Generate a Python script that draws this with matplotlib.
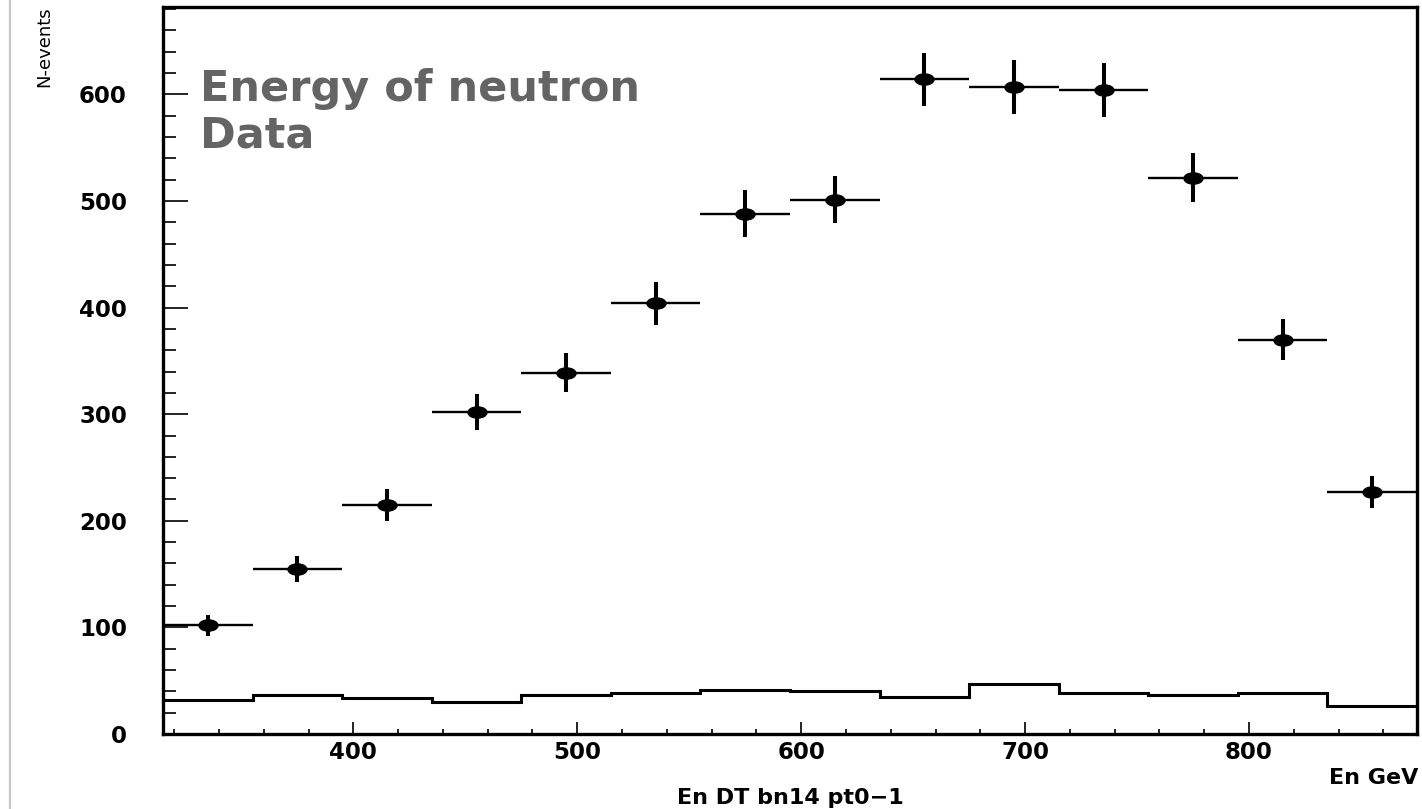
import numpy as np
import matplotlib
matplotlib.use("Agg")
import matplotlib.pyplot as plt
from matplotlib.path import Path
from matplotlib.lines import Line2D
from matplotlib.ticker import MultipleLocator

# Histogram binning (GeV)
bin_edges = [315, 355, 395, 435, 475, 515, 555, 595, 635, 675, 715, 755, 795, 835, 875]

# Data points: counts and their errors
data_counts = [102, 155, 215, 302, 339, 404, 488, 501, 614, 607, 604, 522, 370, 227]
data_errors = [10, 12, 15, 17, 18, 20, 22, 22, 25, 25, 25, 23, 19, 15]

# Lower histogram (background-like line)
bkg_counts = [32, 37, 33.5, 30, 37, 38, 41, 40.5, 34.5, 47, 38, 36.5, 38.5, 26]

TITLE_LINES = ["Energy of neutron", "Data"]
YLABEL = "N-events"
XLABEL_UNIT = "En GeV"
XLABEL_NAME = "En DT bn14 pt0\u22121"

W, H = 1422, 809


def ellipse_marker(stretch):
    # wide dot, the original picture is stretched horizontally
    circ = Path.unit_circle()
    verts = circ.vertices * np.array([stretch, 1.0])
    return Path(verts, circ.codes)


def fig_xy(px, py):
    # pixel position (from top-left) -> figure fraction
    return px / W, 1 - py / H


def plot_data():
    fig = plt.figure(figsize=(W / 100, H / 100), dpi=100)
    ax = fig.add_axes([163 / W, 75 / H, (1417 - 163) / W, (734 - 7) / H])

    edges = np.array(bin_edges)
    centers = 0.5 * (edges[:-1] + edges[1:])
    half = 0.5 * (edges[1:] - edges[:-1])

    # lower histogram
    ax.stairs(bkg_counts, edges, color="black", linewidth=2.2, baseline=None)

    # data with error crosses
    ax.errorbar(centers, data_counts, xerr=half, fmt="none", ecolor="black",
                elinewidth=1.7, capsize=0)
    ax.errorbar(centers, data_counts, yerr=data_errors, fmt="none", ecolor="black",
                elinewidth=2.9, capsize=0)
    ax.plot(centers, data_counts, linestyle="none", marker=ellipse_marker(1.7),
            markersize=13.7, color="black")

    ax.set_xlim(edges[0], edges[-1])
    ax.set_ylim(0, 682)

    ax.xaxis.set_major_locator(MultipleLocator(100))
    ax.xaxis.set_minor_locator(MultipleLocator(20))
    ax.yaxis.set_major_locator(MultipleLocator(100))
    ax.yaxis.set_minor_locator(MultipleLocator(20))

    ax.tick_params(axis="x", which="major", direction="in", length=8.6, width=1.2,
                   pad=5, labelsize=16.5)
    ax.tick_params(axis="x", which="minor", direction="in", length=3.6, width=1.2)
    ax.tick_params(axis="y", which="major", direction="in", length=18, width=1.2,
                   pad=26, labelsize=16.5)
    ax.tick_params(axis="y", which="minor", direction="in", length=9.5, width=1.2)
    for lbl in ax.get_xticklabels() + ax.get_yticklabels():
        lbl.set_fontweight("bold")
    for spine in ax.spines.values():
        spine.set_linewidth(2.4)

    # title text inside the frame
    fig.text(*fig_xy(200, 101), TITLE_LINES[0], fontsize=31, fontweight="bold",
             color="#646464", ha="left", va="baseline")
    fig.text(*fig_xy(200, 148), TITLE_LINES[1], fontsize=31, fontweight="bold",
             color="#646464", ha="left", va="baseline")

    fig.text(*fig_xy(53, 6), YLABEL, rotation=90, ha="right", va="top",
             fontsize=13)
    fig.text(*fig_xy(1418, 784), XLABEL_UNIT, ha="right", va="baseline",
             fontsize=16, fontweight="bold")
    fig.text(*fig_xy(790, 804), XLABEL_NAME, ha="center", va="baseline",
             fontsize=16, fontweight="bold")

    # page border line on the far left
    fig.add_artist(Line2D([10 / W, 10 / W], [0, 1], transform=fig.transFigure,
                          color="#c8c8c8", linewidth=1.6))

    fig.savefig("out.png", dpi=100)


if __name__ == "__main__":
    plot_data()
